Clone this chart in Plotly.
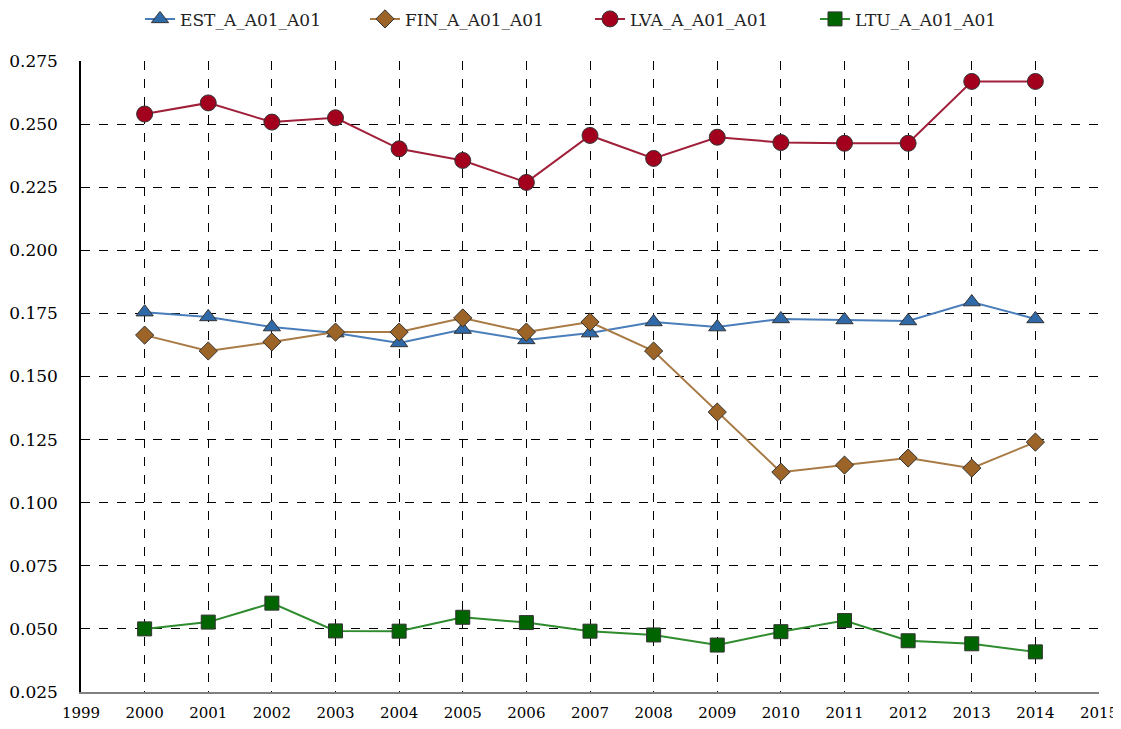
import plotly.graph_objects as go

years = list(range(2000, 2015))
est = [0.1755, 0.1736, 0.1696, 0.1672, 0.1633, 0.1686, 0.1645, 0.1672,
       0.1716, 0.1696, 0.1728, 0.1724, 0.1720, 0.1795, 0.1728]
fin = [0.1664, 0.1601, 0.1637, 0.1676, 0.1676, 0.1732, 0.1676, 0.1716,
       0.1601, 0.1359, 0.1121, 0.1149, 0.1177, 0.1137, 0.1240]
lva = [0.2540, 0.2584, 0.2508, 0.2525, 0.2402, 0.2356, 0.2269, 0.2455,
       0.2364, 0.2448, 0.2427, 0.2424, 0.2424, 0.2669, 0.2669]
ltu = [0.0500, 0.0527, 0.0602, 0.0492, 0.0491, 0.0546, 0.0525, 0.0491,
       0.0476, 0.0436, 0.0489, 0.0533, 0.0453, 0.0441, 0.0409]

series = [
    ("EST_A_A01_A01", est, "#4A7EBB", "#2F69A8", "triangle-up", 15),
    ("FIN_A_A01_A01", fin, "#A87A45", "#9C6426", "diamond", 14),
    ("LVA_A_A01_A01", lva, "#A0203A", "#A3001E", "circle", 16),
    ("LTU_A_A01_A01", ltu, "#2E8B2E", "#006400", "square", 14),
]

fig = go.Figure()
for name, vals, lc, mc, sym, sz in series:
    fig.add_trace(go.Scatter(
        x=years, y=vals, name=name, mode="lines+markers",
        line=dict(color=lc, width=2),
        marker=dict(symbol=sym, size=sz, color=mc,
                    line=dict(color="#333333", width=1)),
    ))

font = "DejaVu Serif"
fig.update_layout(
    width=1113, height=721,
    margin=dict(l=73, r=22, t=53, b=37, autoexpand=False),
    paper_bgcolor="white", plot_bgcolor="white",
    font=dict(family=font, size=17, color="black"),
    showlegend=True,
    legend=dict(orientation="h", x=0.5, xanchor="center", y=1.066, yanchor="middle",
                font=dict(family=font, size=17, color="#222222"),
                entrywidth=180, bgcolor="rgba(0,0,0,0)", tracegroupgap=0),
)
fig.update_xaxes(
    range=[1999, 2015], tick0=1999, dtick=1, showgrid=True,
    gridcolor="black", griddash="dash", gridwidth=1,
    showline=True, linecolor="#808080", linewidth=2,
    ticks="outside", ticklen=6, tickcolor="rgba(0,0,0,0)",
    ticklabeloverflow="allow",
    zeroline=False, tickfont=dict(family=font, size=15),
)
fig.update_yaxes(
    range=[0.025, 0.275], tick0=0.025, dtick=0.025, tickformat=".3f",
    showgrid=True, gridcolor="black", griddash="dash", gridwidth=1,
    showline=True, linecolor="black", linewidth=1.5,
    ticks="outside", ticklen=18, tickcolor="rgba(0,0,0,0)",
    zeroline=False, tickfont=dict(family=font, size=17),
)
fig.write_html("out.html")
